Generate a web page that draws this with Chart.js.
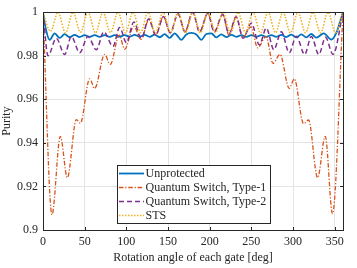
<!DOCTYPE html>
<html>
<head>
<meta charset="utf-8">
<script src="https://cdn.jsdelivr.net/npm/chart.js@4/dist/chart.umd.min.js"></script>
<style>
  html, body { margin: 0; padding: 0; background: #fff; }
  #wrap { width: 357px; height: 268px; position: relative; }
</style>
</head>
<body>
<div id="wrap"><canvas id="myChart" width="357" height="268"></canvas></div>
<script>
// tick labels
var xTicks = [0, 50, 100, 150, 200, 250, 300, 350];
var yTicks = [0.9, 0.92, 0.94, 0.96, 0.98, 1];

var seriesNames = ['Unprotected', 'Quantum Switch, Type-1', 'Quantum Switch, Type-2', 'STS'];

// Unprotected
var unprotAngle = [0, 3, 8, 14, 20, 26, 32, 38, 44, 50, 56, 62, 68, 74, 80, 86, 92, 98, 104, 110,
  116, 122, 128, 134, 140, 146, 152, 158, 166, 172, 178, 184, 190, 196, 202, 208, 214, 220, 226,
  232, 238, 244, 250, 256, 262, 268, 274, 280, 286, 292, 298, 304, 310, 316, 322, 328, 337, 346, 352, 356, 360];
var unprotPurity = [1.0, 0.993, 0.9873, 0.9903, 0.9882, 0.9899, 0.9885, 0.9896, 0.9886, 0.9895, 0.9887, 0.9895,
  0.9887, 0.9895, 0.9887, 0.9895, 0.9888, 0.9895, 0.9888, 0.9896, 0.9888, 0.9896, 0.9887, 0.9897, 0.9885, 0.9899,
  0.9882, 0.9903, 0.9873, 0.9898, 0.9905, 0.9898, 0.9873, 0.9900, 0.9903, 0.9884, 0.9898, 0.9886, 0.9896, 0.9887,
  0.9895, 0.9887, 0.9895, 0.9887, 0.9895, 0.9887, 0.9895, 0.9887, 0.9896, 0.9886, 0.9897, 0.9885, 0.9898, 0.9884,
  0.9900, 0.9883, 0.9903, 0.9874, 0.9905, 0.9950, 1.0];

// Quantum Switch, Type-1
var type1Angle = [0, 10.8, 20.8, 29.2, 40, 44.8, 56, 62, 74, 80.7, 91.5, 98, 109, 117.6, 127, 135.2, 144.5,
  152.8, 162, 170.4, 179.7, 188, 197.7, 205.6, 215.6, 223.2, 231.7, 240, 249.7, 257.6, 267.6, 276, 284.4,
  295.5, 301.5, 312.7, 318.7, 329.5, 338.7, 347.4, 360];
var type1Purity = [1.0, 0.907, 0.943, 0.924, 0.9507, 0.949, 0.9694, 0.965, 0.9806, 0.976, 0.9895, 0.983,
  0.9935, 0.9875, 0.9965, 0.9895, 0.998, 0.9905, 0.9993, 0.991, 1.0, 0.991, 0.9995, 0.991, 0.999, 0.9895,
  0.9978, 0.9885, 0.9933, 0.9836, 0.9888, 0.9765, 0.9806, 0.965, 0.9694, 0.9488, 0.9505, 0.924, 0.943,
  0.9075, 1.0];

// Quantum Switch, Type-2
var type2Angle = [0, 6, 16, 26, 34, 44, 54, 64, 73, 84, 92, 100, 109, 118, 127, 135.2, 144.5, 152.8, 162,
  170.4, 179.7, 188, 197.7, 205.6, 215.6, 223.2, 231.7, 240, 250, 259.6, 268, 277, 286, 295.5, 304, 314,
  322, 331, 339, 348, 360];
var type2Purity = [1.0, 0.980, 0.988, 0.9806, 0.9888, 0.9814, 0.9888, 0.9828, 0.991, 0.9843, 0.993, 0.986,
  0.9955, 0.988, 0.997, 0.9895, 0.998, 0.9905, 0.9993, 0.991, 1.0, 0.991, 0.9995, 0.991, 0.999, 0.990,
  0.998, 0.988, 0.995, 0.985, 0.9927, 0.9828, 0.991, 0.9814, 0.989, 0.9806, 0.9888, 0.9806, 0.9885,
  0.9806, 1.0];

// STS
var stsAngle = [0, 9, 18, 27, 36, 45, 54, 63, 72, 81, 90, 99, 108, 117, 126, 135, 144, 153, 162, 171, 180,
  189, 198, 207, 216, 225, 234, 243, 252, 261, 270, 279, 288, 297, 306, 315, 324, 333, 342, 351, 360];
var stsPurity = [1.0, 0.9912, 1.0, 0.9905, 1.0, 0.9908, 1.0, 0.9905, 1.0, 0.9906, 1.0, 0.9905, 1.0, 0.9906,
  1.0, 0.9905, 1.0, 0.9906, 1.0, 0.9905, 1.0, 0.9905, 1.0, 0.9906, 1.0, 0.9905, 1.0, 0.9906, 1.0, 0.9905,
  1.0, 0.9906, 1.0, 0.9905, 1.0, 0.9906, 1.0, 0.9905, 1.0, 0.9906, 1.0];

var FONT = "'Liberation Serif', 'Times New Roman', serif";
var INK = '#262626';

function pts(xs, ys) {
  return xs.map(function(x, i){ return {x: x, y: ys[i]}; });
}

// box, inner ticks and legend, matlab style
var axesPlugin = {
  id: 'axesBox',
  afterDatasetsDraw: function(chart) {
    var ctx = chart.ctx, a = chart.chartArea;
    var xs = chart.scales.x, ys = chart.scales.y;
    ctx.save();
    ctx.strokeStyle = INK;
    ctx.lineWidth = 1;
    ctx.beginPath();
    xTicks.forEach(function(t){
      var p = Math.round(xs.getPixelForValue(t)) + 0.5;
      ctx.moveTo(p, a.bottom); ctx.lineTo(p, a.bottom - 3);
      ctx.moveTo(p, a.top); ctx.lineTo(p, a.top + 3);
    });
    yTicks.forEach(function(t){
      var p = Math.round(ys.getPixelForValue(t)) + 0.5;
      ctx.moveTo(a.left, p); ctx.lineTo(a.left + 3, p);
      ctx.moveTo(a.right, p); ctx.lineTo(a.right - 3, p);
    });
    ctx.stroke();
    ctx.strokeRect(Math.round(a.left) + 0.5, Math.round(a.top) + 0.5,
      Math.round(a.right - a.left), Math.round(a.bottom - a.top));
    ctx.restore();
  },
  afterDraw: function(chart) {
    var ctx = chart.ctx;
    var bx = 117.5, by = 165.5, bw = 153, bh = 58;
    ctx.save();
    ctx.fillStyle = '#fff';
    ctx.fillRect(bx, by, bw, bh);
    ctx.strokeStyle = INK;
    ctx.lineWidth = 1;
    ctx.strokeRect(bx, by, bw, bh);
    ctx.font = '12px ' + FONT;
    ctx.textBaseline = 'middle';
    chart.data.datasets.forEach(function(ds, i){
      var yy = 173.5 + i * 14;
      ctx.beginPath();
      ctx.strokeStyle = ds.borderColor;
      ctx.lineWidth = ds.borderWidth;
      ctx.setLineDash(ds.borderDash || []);
      ctx.moveTo(119, yy); ctx.lineTo(144, yy);
      ctx.stroke();
      ctx.setLineDash([]);
      ctx.fillStyle = INK;
      ctx.fillText(ds.label, 145.5, yy + 0.5);
    });
    ctx.restore();
  }
};

function renderChart() {
  var ctx = document.getElementById('myChart').getContext('2d');
  var myChart = new Chart(ctx, {
    type: 'line',
    data: {
      datasets: [{
        label: seriesNames[0],
        data: pts(unprotAngle, unprotPurity),
        borderColor: '#0072BD',
        borderWidth: 1.8,
        order: 3
      }, {
        label: seriesNames[1],
        data: pts(type1Angle, type1Purity),
        borderColor: '#D95319',
        borderWidth: 1.3,
        borderDash: [4.5, 1.8, 1.2, 1.8],
        order: 2
      }, {
        label: seriesNames[2],
        data: pts(type2Angle, type2Purity),
        borderColor: '#7E2F8E',
        borderWidth: 1.5,
        borderDash: [5, 3],
        order: 1
      }, {
        label: seriesNames[3],
        data: pts(stsAngle, stsPurity),
        borderColor: '#EDB120',
        borderWidth: 1.5,
        borderDash: [1.5, 1.5],
        order: 0
      }]
    },
    options: {
      responsive: false,
      animation: false,
      events: [],
      elements: {
        point: { radius: 0 },
        line: { cubicInterpolationMode: 'monotone', fill: false }
      },
      layout: { padding: { top: 7, right: 14, left: 0, bottom: 0 } },
      plugins: { legend: { display: false }, tooltip: { enabled: false } },
      scales: {
        x: {
          type: 'linear',
          min: 0, max: 360,
          afterBuildTicks: function(s){ s.ticks = xTicks.map(function(v){ return {value: v}; }); },
          afterFit: function(s){ s.height = 38; },
          grid: { color: '#e4e4e4', drawTicks: false },
          border: { color: INK },
          ticks: { color: INK, padding: 5, font: { family: FONT, size: 12 }, maxRotation: 0 },
          title: { display: true, text: 'Rotation angle of each gate [deg]', color: INK,
                   font: { family: FONT, size: 12 }, padding: { top: 0, bottom: 3 } }
        },
        y: {
          min: 0.9, max: 1,
          afterBuildTicks: function(s){ s.ticks = yTicks.map(function(v){ return {value: v}; }); },
          afterFit: function(s){ s.width = 43; },
          grid: { color: '#e4e4e4', drawTicks: false },
          border: { color: INK },
          ticks: { color: INK, padding: 5, font: { family: FONT, size: 12 },
                   callback: function(v){ return String(Number(v.toFixed(2))); } },
          title: { display: true, text: 'Purity', color: INK,
                   font: { family: FONT, size: 12 }, padding: { top: 0, bottom: 0 } }
        }
      }
    },
    plugins: [axesPlugin]
  });
}

document.addEventListener('DOMContentLoaded', renderChart);
</script>
</body>
</html>
